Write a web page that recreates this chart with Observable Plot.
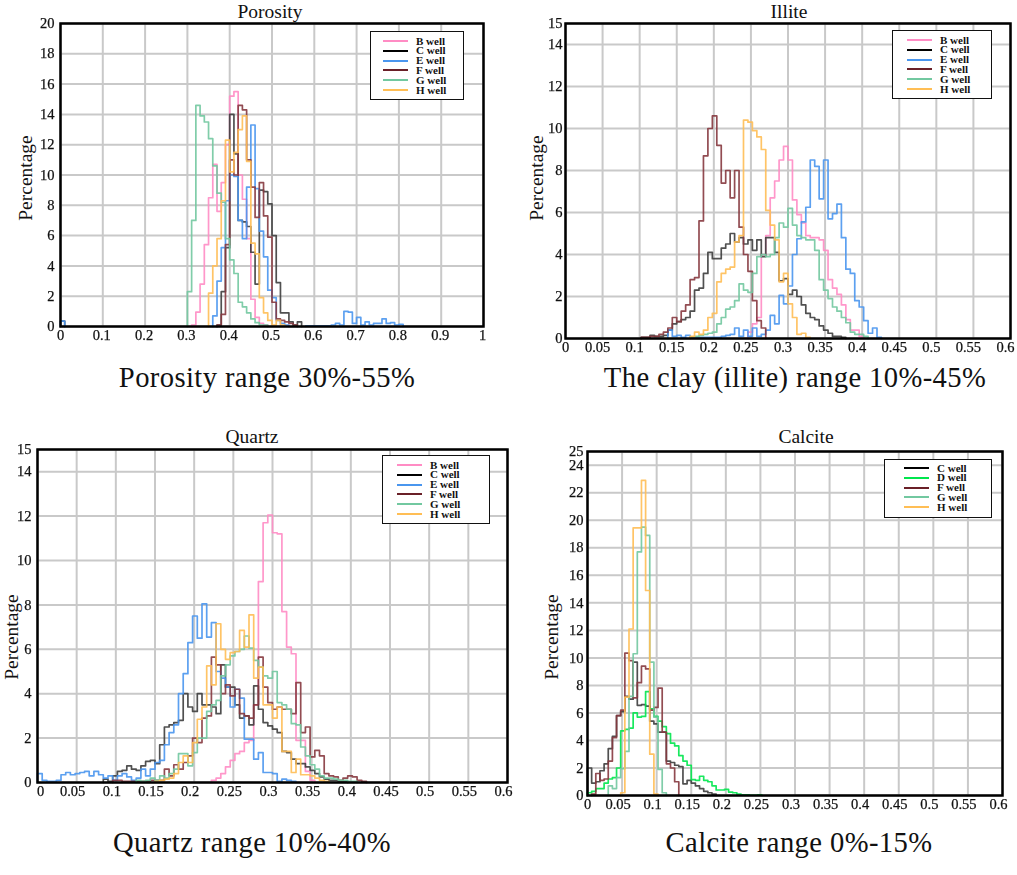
<!DOCTYPE html>
<html>
<head>
<meta charset="utf-8">
<script src="https://cdn.jsdelivr.net/npm/d3@7"></script>
<script src="https://cdn.jsdelivr.net/npm/@observablehq/plot@0.6"></script>
<style>
  html, body { margin: 0; background: white; }
  #page { position: relative; width: 1017px; height: 875px; overflow: hidden; font-family: "Liberation Serif", serif; color: #111; }
  #page svg { filter: blur(0.3px); }
  #page svg text { stroke: #111; stroke-width: 0.25px; }
  .abs { position: absolute; white-space: nowrap; }
  .title { font-size: 19.5px; line-height: 16px; transform: translate(-50%, -50%); }
  .caption { font-size: 28.6px; letter-spacing: 0.4px; transform: translate(-50%, -50%); }
  .ylabel { font-size: 19.5px; line-height: 16px; transform: translate(-50%, -50%) rotate(-90deg); }
  .legend { background: white; border: 1.5px solid #111; box-sizing: border-box; font-size: 11px; font-weight: bold; }
  .legend .swatch { position: absolute; height: 2px; width: 25px; }
  .legend .name { position: absolute; line-height: 9px; }
</style>
</head>
<body>
<div id="page"></div>
<script>
// values per histogram bin, each series starts at bin "From"
// porosity: 100 bins over 0-1
const porosityBFrom = 31
const porosityB = [.1,.95,2.8,5.4,8.5,10.7,7.6,9.5,12,15.2,15.5,10,8.4,5.8,1.8,.6,.2,.1]
const porosityCFrom = 37
const porosityC = [.1,2.3,5.2,14,11.4,7,6.9,6.6,4.9,2.8,9,8.9,8.1,6,2.9,.9,.9,.3,.1,.3]
const porosityEFrom = 36
const porosityE = [.7,3,5.2,8.3,10,9.9,7,5.8,9.2,13.3,9.1,6.3,4.6,2.4,1.9,.4,.2,.1]
const porosityE2From = 58
const porosityE2 = [.05,.05,.05,.05,.05,.05,.1,.2,.1,1,.95,.2,.6,.1,.3,.1,.2,.2,.5,.2,.25,.1,.15]
const porosityZeroBin = [.35]
const porosityFFrom = 37
const porosityF = [.1,.8,5.4,11,10,14.6,14.3,11,9.2,7.2,9.5,7.3,5.9,1.6,.5,.4,.3,.2,.1]
const porosityGFrom = 30
const porosityG = [2.3,7,14.6,13.9,13.5,12.4,10.6,8.8,8.2,5.8,4.4,3.5,1.6,1.3,.9,.5,.25,.1,.1]
const porosityHFrom = 35
const porosityH = [2.2,4,5.8,8.3,12.3,10.2,11.5,13,13.9,10.9,5.5,4.8,1.9,.9,.4,.1,.4,.1]

// illite: 100 bins over 0-0.6
const illiteBFrom = 41
const illiteB = [.3,.7,1,4,4.9,6.7,7.5,8.5,9.15,8.5,6.6,5.9,5.5,4.9,4.8,4.8,4.7,4.2,2.8,2.4,2.1,1.6,.9,.4,.4,.1]
const illiteCFrom = 17
const illiteC = [.05,.05,.15,.1,.1,.15,.4,.7,.8,.9,1,1.3,2.3,2.4,3.1,4.1,3.8,3.8,4.3,4.5,5,4.6,4.8,4.5,4.7,4.2,4.7,3.9,4.8,4.8,4.1,2.75,2.85,2.1,2.3,2,1.6,1.2,1,.9,.6,.4,.25,.1,.1,.05]
const illiteEFrom = 23
const illiteE = [.4,.1,.15,.05,.15,.05,.05,.05,.05,.05,.05,.05,.1,.15,.2,.5,.1,.4,.1,.5,.1,.2,.4,1.1,.7,2.05,1.65,2.5,4,4.75,5.55,6.25,8.5,8.2,6.65,8.5,5.7,5.95,6.4,4.8,3.3,3.1,1.8,1.5,.85,.25,.5,.05]
const illiteFFrom = 17
const illiteF = [.05,.05,.1,.1,.2,.3,.5,1,.8,1.3,1.6,2.8,2.9,5.6,8.7,10,10.6,9.2,7.4,8,6.7,8,5.3,4,3.2,1.8,.85,.5]
const illiteGFrom = 28
const illiteG = [.05,.1,.15,.2,.25,.3,.7,1,1.4,1.5,1.8,2.6,2.3,2.2,3.1,3.9,4,3.9,4,4.8,5.5,5.3,6.2,5.4,4.9,4.8,4.7,4.7,4.2,2.8,2.3,1.9,1.5,1.3,1,.75,.3,.2,.2,.1]
const illiteHFrom = 28
const illiteH = [.1,.3,.2,.4,1,1.2,2.7,3.1,3.3,3.4,4.6,4.9,10.4,10.3,9.9,9.6,9,6.1,5.4,4.7,2.7,3.1,1.65,1,.2,.25,.05]

// quartz: 100 bins over 0-0.6
const quartzBFrom = 37
const quartzB = [.1,.2,.4,.7,1,1.3,1.4,1.8,1.9,3.5,9.05,11.7,12.05,11.25,11.2,7.7,6.1,5.8,1.9,1.9,.5,.1]
const quartzCFrom = 14
const quartzC = [.15,.05,.3,.5,.55,.75,.6,.55,.75,.95,1,.85,1.7,2.5,2.6,2.7,2.8,4,3.4,3.2,4,3.5,3.5,3.4,3.1,5.3,4.3,4.3,3.5,2.9,3,2.6,4.35,3.3,2.7,2.55,2.4,2.25,1.4,1.35,1.05,.85,.85,.7,.55,.4,.25,.15,.1,.1,.05,.05]
const quartzEFrom = 0
const quartzE = [.4,.1,.05,.05,.1,.35,.45,.35,.4,.45,.5,.3,.5,.35,.2,.3,.1,.3,.4,.25,.1,.2,.6,.3,.6,.9,1,1.7,2.25,2.6,4,4.9,6.3,7.5,6.5,8.05,6.55,7.2,5,4.7,4.3,3.4,4.2,3.8,1.95,1.95,1.05,1.35,.45,.45,.4,.05,.15,.1,.05]
const quartzFFrom = 16
const quartzF = [.1,.1,.05,.05,.05,.05,.05,.05,.1,.1,.1,.6,.3,.8,.6,.9,1.2,2,1.8,2.9,3,5.65,5.3,4,4.4,3.9,4.2,3.1,3,2.9,3.5,5.65,4.3,3.6,3.3,3.4,3.3,3.3,3.1,4.5,2.25,2.5,1.15,1.45,1.2,.4,.3,.25,.1,.2,.3,.25,.1,.05]
const quartzGFrom = 21
const quartzG = [.1,.05,.1,.2,.1,.3,.2,.4,.6,1.3,1.3,.75,1.35,2,2,3.2,3.5,3.7,4.8,5.3,5.7,5.9,6,6.6,6.05,5.5,5.2,4.8,4.7,5,3.6,3.5,3.3,2.65,2.6,1.6,1.2,.8,.6,.3,.2,.2,.15,.1,.1,.05,.05]
const quartzHFrom = 25
const quartzH = [.05,.1,.15,.2,.4,.9,1.2,.9,1.8,2.85,3.4,5.25,4.4,7.15,6,5.55,5.85,5.9,6.85,6.1,7.55,4.7,5.2,3.5,3.5,2.9,3.4,1.4,1.4,.45,1.05,.35,.35,.3,.2,.1,.05]

// calcite: 100 bins over 0-0.6
const calciteCFrom = 0
const calciteC = [2,.9,1,1.8,2.3,3.4,4.3,5.8,6.1,7.2,7,9.7,6.55,6.6,6.5,5.4,5.2,4.6,4.6,2.5,2.4,2.2,2.1,.85,1.1,.9,.7,.5,.3,.2,.1]
const calciteDFrom = 0
const calciteD = [.2,.3,.5,.5,.9,1.2,1.3,2,4.7,4.8,4.9,6,5.7,5.75,7.55,6.3,5.75,5.4,5,4.5,3.8,3.6,2.9,2.5,2.2,1.15,1.1,1.4,1.1,1,.7,.4,.4,.45,.25,.2,.1,.05,.05,.02,.02,.05]
const calciteFFrom = 1
const calciteF = [.1,1.6,1.1,1.2,2.5,4.2,5.8,6.2,10.35,9.8,7.1,8.2,9.4,9.2,6.2,6.4,7.8,4.6,2.3,2,1]
const calciteGFrom = 5
const calciteG = [.7,.5,1.3,1.95,3.2,7.2,10.3,17.7,19.5,18.9,9.7,5.7,1.9,.2]
const calciteHFrom = 8
const calciteH = [.2,7.15,12.1,19.45,19.45,22.9,14.9,3,.1]

// axis ticks
const ticksX1 = [.1,.2,.3,.4,.5,.6,.7,.8,.9,1]
const ticksX6 = [.05,.1,.15,.2,.25,.3,.35,.4,.45,.5,.55,.6]
const ticksY20 = [0,2,4,6,8,10,12,14,16,18,20]
const ticksY15 = [0,2,4,6,8,10,12,14,15]
const ticksY25 = [0,2,4,6,8,10,12,14,16,18,20,22,24,25]

const wellNames = ['B well','C well','D well','E well','F well','G well','H well']
const wellColors = ['#ff8cc4','#3d3d3d','#00e64d','#4a96ee','#86383f','#72c8a0','#ffbe55']
const legendColors = ['#ff8cc4','#000000','#00e64d','#4a96ee','#6a2028','#72c8a0','#ffbe55']

// turns a list of bin values into the points of a step line
function steps(well, seg, from, vals, binW) {
  let pts = vals.map((v, i) => ({well: well, seg: well + seg, x: (from + i) * binW, y: v}))
  pts.unshift({well: well, seg: well + seg, x: from * binW, y: 0})
  pts.push({well: well, seg: well + seg, x: (from + vals.length) * binW, y: 0})
  return pts
}

const panels = [
  {
    title: 'Porosity', caption: 'Porosity range 30%-55%', xMax: 1, yMax: 20, ticksX: ticksX1, ticksY: ticksY20,
    frame: [60, 483, 23, 326], titleAt: [270, 11.5], capAt: [267, 378], ylabAt: [26, 178],
    zeroDx: 0, tickDx: -1, padY: 6,
    legend: {x: 370, y: 31, w: 94, rowY: 9, swatchX: 12, textX: 45, wells: ['B well','C well','E well','F well','G well','H well']},
    rows: [
      steps('B well', 0, porosityBFrom, porosityB, .01),
      steps('C well', 0, 0, porosityZeroBin, .01),
      steps('C well', 1, porosityCFrom, porosityC, .01),
      steps('E well', 0, 0, porosityZeroBin, .01),
      steps('E well', 1, porosityEFrom, porosityE, .01),
      steps('E well', 2, porosityE2From, porosityE2, .01),
      steps('F well', 0, porosityFFrom, porosityF, .01),
      steps('G well', 0, porosityGFrom, porosityG, .01),
      steps('H well', 0, porosityHFrom, porosityH, .01)
    ]
  },
  {
    title: 'Illite', caption: 'The clay (illite) range 10%-45%', xMax: .6, yMax: 15, ticksX: ticksX6, ticksY: ticksY15,
    frame: [565, 1010, 23, 338], titleAt: [789, 11.5], capAt: [795, 378], ylabAt: [537, 178],
    zeroDx: 0, tickDx: -5, padY: 3,
    legend: {x: 892, y: 30, w: 100, rowY: 9, swatchX: 14, textX: 47, wells: ['B well','C well','E well','F well','G well','H well']},
    rows: [
      steps('B well', 0, illiteBFrom, illiteB, .006),
      steps('C well', 0, illiteCFrom, illiteC, .006),
      steps('E well', 0, illiteEFrom, illiteE, .006),
      steps('F well', 0, illiteFFrom, illiteF, .006),
      steps('G well', 0, illiteGFrom, illiteG, .006),
      steps('H well', 0, illiteHFrom, illiteH, .006)
    ]
  },
  {
    title: 'Quartz', caption: 'Quartz range 10%-40%', xMax: .6, yMax: 15, ticksX: ticksX6, ticksY: ticksY15,
    frame: [37, 507, 449, 782], titleAt: [252, 437], capAt: [252, 843], ylabAt: [11.5, 637],
    zeroDx: 3, tickDx: -4, padY: 6,
    legend: {x: 382, y: 455, w: 108, rowY: 9, swatchX: 14, textX: 47, wells: ['B well','C well','E well','F well','G well','H well']},
    rows: [
      steps('B well', 0, quartzBFrom, quartzB, .006),
      steps('C well', 0, quartzCFrom, quartzC, .006),
      steps('E well', 0, quartzEFrom, quartzE, .006),
      steps('F well', 0, quartzFFrom, quartzF, .006),
      steps('G well', 0, quartzGFrom, quartzG, .006),
      steps('H well', 0, quartzHFrom, quartzH, .006)
    ]
  },
  {
    title: 'Calcite', caption: 'Calcite range 0%-15%', xMax: .6, yMax: 25, ticksX: ticksX6, ticksY: ticksY25,
    frame: [587, 1002, 451, 795], titleAt: [806, 437], capAt: [799, 843], ylabAt: [552, 637],
    zeroDx: 0, tickDx: -4, padY: 4,
    legend: {x: 884, y: 459, w: 108, rowY: 8, swatchX: 19, textX: 52, wells: ['C well','D well','F well','G well','H well']},
    rows: [
      steps('C well', 0, calciteCFrom, calciteC, .006),
      steps('D well', 0, calciteDFrom, calciteD, .006),
      steps('F well', 0, calciteFFrom, calciteF, .006),
      steps('G well', 0, calciteGFrom, calciteG, .006),
      steps('H well', 0, calciteHFrom, calciteH, .006)
    ]
  }
]

const page = d3.select('#page')
const fmt = d => String(d)

panels.forEach(p => {
  let [x0, x1, y0, y1] = p.frame
  let left = 30, right = 14, top = 5, bottom = 24
  let tickFont = {fontSize: 14.5, fontFamily: 'Liberation Serif', fill: '#111', label: null, tickSize: 0, tickFormat: fmt}

  let chart = Plot.plot({
    width: x1 - x0 + left + right,
    height: y1 - y0 + top + bottom,
    marginLeft: left, marginRight: right, marginTop: top, marginBottom: bottom,
    style: {background: 'transparent', maxWidth: 'none', overflow: 'visible'},
    x: {domain: [0, p.xMax], axis: null},
    y: {domain: [0, p.yMax], axis: null},
    color: {domain: wellNames, range: wellColors},
    marks: [
      Plot.gridX([0].concat(p.ticksX), {stroke: '#c9c9c9', strokeWidth: 2, strokeOpacity: 1}),
      Plot.gridY(p.ticksY, {stroke: '#c9c9c9', strokeWidth: 2, strokeOpacity: 1}),
      Plot.line(p.rows.flat(), {x: 'x', y: 'y', z: 'seg', stroke: 'well', curve: 'step-after', strokeWidth: 1.7, strokeOpacity: 0.9}),
      Plot.frame({stroke: 'black', strokeWidth: 2.5}),
      Plot.axisX({...tickFont, ticks: [0], tickPadding: 3, dx: p.zeroDx}),
      Plot.axisX({...tickFont, ticks: p.ticksX, tickPadding: 3, dx: p.tickDx}),
      Plot.axisY({...tickFont, ticks: p.ticksY, tickPadding: p.padY})
    ]
  })

  page.append('div').attr('class', 'abs')
    .style('left', (x0 - left) + 'px').style('top', (y0 - top) + 'px')
    .append(() => chart)

  page.append('div').attr('class', 'abs title').text(p.title)
    .style('left', p.titleAt[0] + 'px').style('top', p.titleAt[1] + 'px')
  page.append('div').attr('class', 'abs caption').text(p.caption)
    .style('left', p.capAt[0] + 'px').style('top', p.capAt[1] + 'px')
  page.append('div').attr('class', 'abs ylabel').text('Percentage')
    .style('left', p.ylabAt[0] + 'px').style('top', p.ylabAt[1] + 'px')

  // legend box
  let lg = p.legend
  let box = page.append('div').attr('class', 'abs legend')
    .style('left', lg.x + 'px').style('top', lg.y + 'px')
    .style('width', lg.w + 'px').style('height', (lg.wells.length * 9.8 + 10) + 'px')
  lg.wells.forEach((w, i) => {
    let c = legendColors[wellNames.indexOf(w)]
    box.append('div').attr('class', 'swatch')
      .style('left', lg.swatchX + 'px').style('top', (lg.rowY + i * 9.8 - 1) + 'px').style('background', c)
    box.append('div').attr('class', 'name').text(w)
      .style('left', lg.textX + 'px').style('top', (lg.rowY + i * 9.8 - 4.5) + 'px')
  })
})
</script>
</body>
</html>
